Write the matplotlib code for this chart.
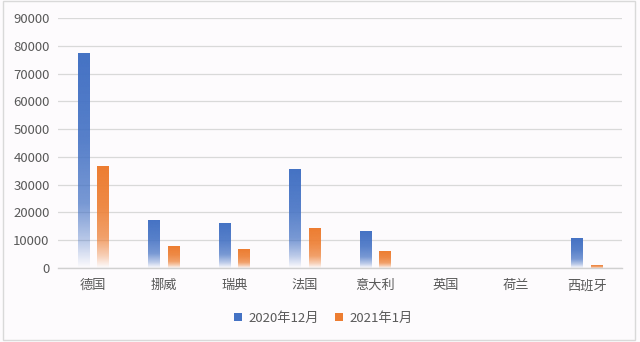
import numpy as np
import matplotlib
matplotlib.use("Agg")
import matplotlib.pyplot as plt
from matplotlib.colors import LinearSegmentedColormap, to_rgb
from matplotlib.patches import Rectangle

plt.rcParams['font.family'] = ['Noto Sans CJK SC', 'DejaVu Sans']

categories = ['德国', '挪威', '瑞典', '法国', '意大利', '英国', '荷兰', '西班牙']
series_names = ['2020年12月', '2021年1月']
dec2020 = [77300, 17300, 16200, 35600, 13300, 0, 0, 10800]
jan2021 = [36700, 7900, 6800, 14400, 6100, 0, 0, 1100]
yticks = [0, 10000, 20000, 30000, 40000, 50000, 60000, 70000, 80000, 90000]

colors = ['#4472C4', '#ED7D31']
bg = '#FDFBFD'

fig = plt.figure(figsize=(6.4, 3.42), dpi=100, facecolor=bg)
ax = fig.add_axes([0.0906, 0.2164, 0.8814, 0.7306])
ax.set_facecolor(bg)

x = np.arange(len(categories))
w = 0.16
off = 0.138

def grad_cmap(c):
    r, g, b = to_rgb(c)
    return LinearSegmentedColormap.from_list(
        'g', [(0.0, (r, g, b, 0.0)), (0.12, (r, g, b, 0.35)),
              (0.3, (r, g, b, 0.72)), (0.6, (r, g, b, 0.9)),
              (1.0, (r, g, b, 1.0))])

grad = np.linspace(0, 1, 256).reshape(-1, 1)
for vals, sign, c, name in [(dec2020, -1, colors[0], series_names[0]),
                             (jan2021, 1, colors[1], series_names[1])]:
    bars = ax.bar(x + sign * off, vals, width=w, color='none', edgecolor='none', zorder=3)
    cm = grad_cmap(c)
    for b in bars:
        h = b.get_height()
        if h <= 0:
            continue
        x0 = b.get_x()
        im = ax.imshow(grad, cmap=cm, aspect='auto', origin='lower',
                       extent=[x0, x0 + b.get_width(), 0, h], zorder=3,
                       interpolation='bilinear')
        im.set_clip_path(b)
    ax.bar([np.nan], [0], color=c, label=name)

ax.set_xlim(-0.5, len(categories) - 0.5)
ax.set_ylim(0, 90000)
ax.set_yticks(yticks)
ax.set_yticklabels([str(v) for v in yticks])
ax.set_xticks(x)
ax.set_xticklabels(categories)
ax.grid(axis='y', color='#D9D9D9', linewidth=0.9, zorder=0)
ax.set_axisbelow(True)
for s in ['top', 'right', 'left']:
    ax.spines[s].set_visible(False)
ax.spines['bottom'].set_color('#D0D0D0')
ax.spines['bottom'].set_linewidth(1.0)
ax.tick_params(axis='both', length=0, colors='#595959', labelsize=9.5)
ax.tick_params(axis='x', pad=8)
ax.tick_params(axis='y', pad=6)

leg = fig.legend(loc='center', bbox_to_anchor=(0.505, 0.07), ncol=2, frameon=False,
                 fontsize=9.5, handlelength=0.6, handleheight=0.6,
                 handletextpad=0.5, columnspacing=1.2)
for t in leg.get_texts():
    t.set_color('#595959')

fig.patches.append(Rectangle((0.004, 0.006), 0.988, 0.99, transform=fig.transFigure,
                             fill=False, edgecolor='#D9D9D9', linewidth=1.0))

fig.savefig('out.png', dpi=100, facecolor=bg)
